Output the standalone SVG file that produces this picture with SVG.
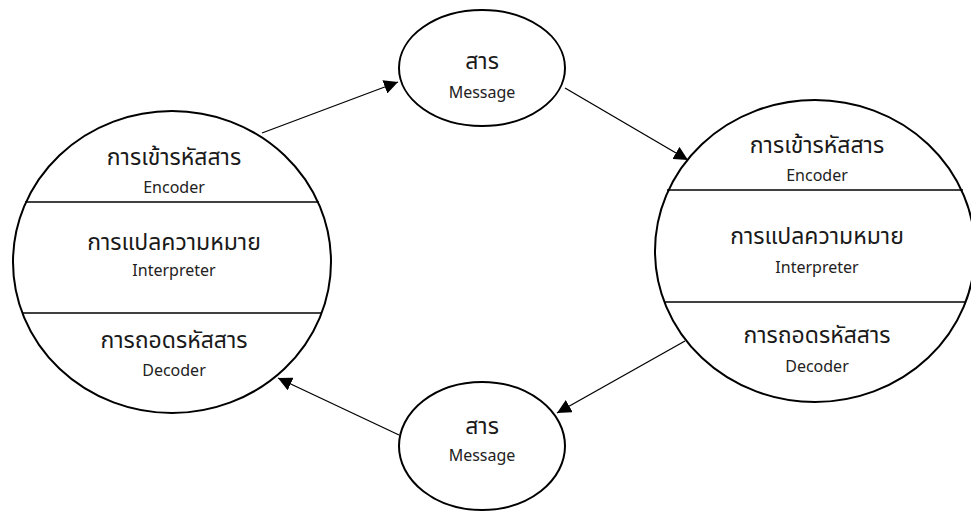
<svg xmlns="http://www.w3.org/2000/svg" width="971" height="515" viewBox="0 0 971 515">
  <defs>
    <marker id="arrow" viewBox="0 0 10 10" refX="10" refY="5" markerWidth="14" markerHeight="14" markerUnits="userSpaceOnUse" orient="auto">
      <path d="M0,0 L10,5 L0,10 z" fill="#000"/>
    </marker>
    <style>
      .shape { fill: #fff; stroke: #000; stroke-width: 2; }
      .divider { stroke: #000; stroke-width: 1.5; }
      .link { stroke: #000; stroke-width: 1.3; fill: none; marker-end: url(#arrow); }
      .th { font-family: "Noto Sans Thai", "Noto Sans", "DejaVu Sans", sans-serif; font-size: 23px; fill: #1a1a1a; text-anchor: middle; dominant-baseline: central; }
      .en { font-family: "Noto Sans", "Open Sans", sans-serif; font-size: 16px; fill: #222; text-anchor: middle; dominant-baseline: central; }
    </style>
  </defs>

  <rect width="971" height="515" fill="#fff"/>

  <!-- sender: encoder / interpreter / decoder -->
  <g id="node-left">
    <ellipse class="shape" cx="172" cy="262" rx="159" ry="151"/>
    <line class="divider" x1="25" y1="202" x2="319" y2="202"/>
    <line class="divider" x1="22" y1="313" x2="322" y2="313"/>
    <text class="th" x="174" y="158">การเข้ารหัสสาร</text>
    <text class="en" x="174" y="187">Encoder</text>
    <text class="th" x="174" y="243">การแปลความหมาย</text>
    <text class="en" x="174" y="270">Interpreter</text>
    <text class="th" x="174" y="341">การถอดรหัสสาร</text>
    <text class="en" x="174" y="370">Decoder</text>
  </g>

  <!-- receiver: encoder / interpreter / decoder -->
  <g id="node-right">
    <ellipse class="shape" cx="815" cy="251" rx="160" ry="151"/>
    <line class="divider" x1="667" y1="190" x2="963" y2="190"/>
    <line class="divider" x1="664" y1="302" x2="966" y2="302"/>
    <text class="th" x="817" y="146">การเข้ารหัสสาร</text>
    <text class="en" x="817" y="175">Encoder</text>
    <text class="th" x="817" y="237">การแปลความหมาย</text>
    <text class="en" x="817" y="267">Interpreter</text>
    <text class="th" x="817" y="336">การถอดรหัสสาร</text>
    <text class="en" x="817" y="366">Decoder</text>
  </g>

  <!-- message going out -->
  <g id="node-message-top">
    <ellipse class="shape" cx="482" cy="68" rx="83" ry="58"/>
    <text class="th" x="482" y="62">สาร</text>
    <text class="en" x="482" y="92">Message</text>
  </g>

  <!-- message coming back -->
  <g id="node-message-bottom">
    <ellipse class="shape" cx="482" cy="446" rx="83" ry="64"/>
    <text class="th" x="482" y="427">สาร</text>
    <text class="en" x="482" y="455">Message</text>
  </g>

  <g id="connectors">
    <line class="link" x1="262" y1="133" x2="398" y2="82"/>
    <line class="link" x1="565" y1="88" x2="688" y2="160"/>
    <line class="link" x1="685" y1="341" x2="557" y2="413"/>
    <line class="link" x1="399" y1="435" x2="278" y2="378"/>
  </g>
</svg>
